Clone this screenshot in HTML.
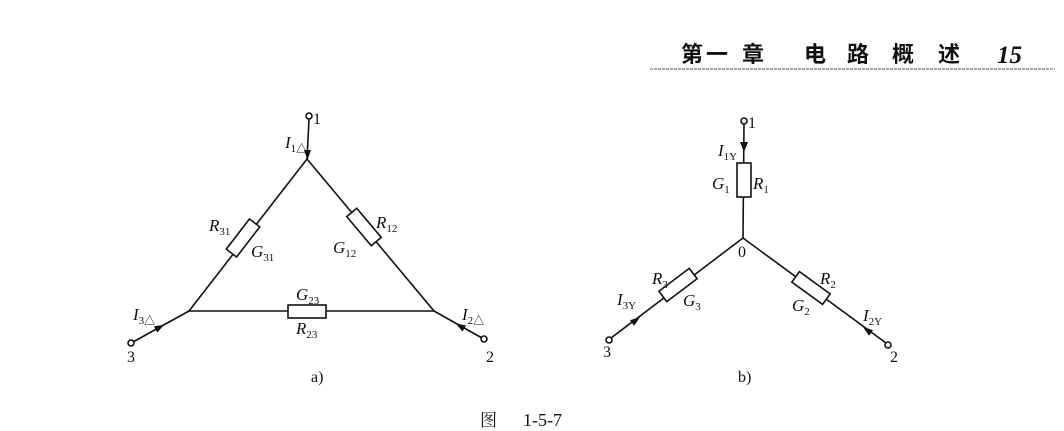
<!DOCTYPE html>
<html><head><meta charset="utf-8"><style>
body{margin:0;background:#fff;}
svg{display:block;}
text{font-family:"Liberation Serif","Noto Serif CJK SC",serif;fill:#111;}
.i{font-style:italic;font-size:17px;}
.s{font-size:11px;font-style:normal;}
.h{font-family:'Noto Sans CJK SC',sans-serif;font-weight:bold;font-size:22px;}
</style></head><body>
<svg width="1064" height="431" viewBox="0 0 1064 431" xmlns="http://www.w3.org/2000/svg">
<text class="h" x="681" y="62">第</text>
<text class="h" x="706" y="62">一</text>
<text class="h" x="742" y="62">章</text>
<text class="h" x="804" y="62">电</text>
<text class="h" x="847" y="62">路</text>
<text class="h" x="892" y="62">概</text>
<text class="h" x="938" y="62">述</text>
<text x="997" y="63" style="font-weight:bold;font-style:italic;font-size:25px">15</text>
<line x1="650" y1="69" x2="1055" y2="69" stroke="#aaa" stroke-width="2" stroke-dasharray="3,1"/>

<g stroke="#111" stroke-width="1.6" fill="none">
<line x1="309" y1="119" x2="307" y2="159"/>
<polyline points="189,311 307,159 434,311 189,311"/>
<line x1="189" y1="311" x2="133" y2="342"/>
<line x1="434" y1="311" x2="482" y2="338"/>
<circle cx="309" cy="116" r="3" fill="#fff"/>
<circle cx="131" cy="343" r="3" fill="#fff"/>
<circle cx="484" cy="339" r="3" fill="#fff"/>
<rect x="-19" y="-6.5" width="38" height="13" fill="#fff" transform="translate(243,238) rotate(-52.4)"/>
<rect x="-19" y="-6.5" width="38" height="13" fill="#fff" transform="translate(364,227) rotate(49.9)"/>
<rect x="288" y="305" width="38" height="13" fill="#fff"/>
<line x1="744" y1="124" x2="743" y2="238"/>
<line x1="743" y1="238" x2="611" y2="338"/>
<line x1="743" y1="238" x2="886" y2="343"/>
<circle cx="744" cy="121" r="3" fill="#fff"/>
<circle cx="609" cy="340" r="3" fill="#fff"/>
<circle cx="888" cy="345" r="3" fill="#fff"/>
<rect x="737" y="163" width="14" height="34" fill="#fff"/>
<rect x="-19" y="-6.5" width="38" height="13" fill="#fff" transform="translate(678,285) rotate(-37)"/>
<rect x="-19" y="-6.5" width="38" height="13" fill="#fff" transform="translate(811,288) rotate(36)"/>
</g>
<g fill="#111">
<polygon points="304,150 311,150 307.5,160"/>
<polygon points="-5,-3.5 5,0 -5,3.5" transform="translate(160,327) rotate(-29)"/>
<polygon points="-5,-3.5 5,0 -5,3.5" transform="translate(460,326) rotate(-150)"/>
<polygon points="740,142 748,142 744,152"/>
<polygon points="-5,-3.5 5,0 -5,3.5" transform="translate(636,320) rotate(-37)"/>
<polygon points="-5,-3.5 5,0 -5,3.5" transform="translate(867,330) rotate(-144)"/>
</g>
<text x="313" y="124" font-size="16">1</text>
<text class="i" x="285" y="148">I<tspan class="s" dy="4">1△</tspan></text>
<text class="i" x="209" y="231">R<tspan class="s" dy="4">31</tspan></text>
<text class="i" x="251" y="257">G<tspan class="s" dy="4">31</tspan></text>
<text class="i" x="376" y="228">R<tspan class="s" dy="4">12</tspan></text>
<text class="i" x="333" y="253">G<tspan class="s" dy="4">12</tspan></text>
<text class="i" x="296" y="300">G<tspan class="s" dy="4">23</tspan></text>
<text class="i" x="296" y="334">R<tspan class="s" dy="4">23</tspan></text>
<text class="i" x="133" y="320">I<tspan class="s" dy="4">3△</tspan></text>
<text class="i" x="462" y="320">I<tspan class="s" dy="4">2△</tspan></text>
<text x="127" y="362" font-size="16">3</text>
<text x="486" y="362" font-size="16">2</text>
<text x="311" y="382" font-size="16">a)</text>
<text x="748" y="128" font-size="16">1</text>
<text class="i" x="718" y="156">I<tspan class="s" dy="4">1Y</tspan></text>
<text class="i" x="712" y="189">G<tspan class="s" dy="4">1</tspan></text>
<text class="i" x="753" y="189">R<tspan class="s" dy="4">1</tspan></text>
<text x="738" y="257" font-size="16">0</text>
<text class="i" x="652" y="284">R<tspan class="s" dy="4">3</tspan></text>
<text class="i" x="683" y="306">G<tspan class="s" dy="4">3</tspan></text>
<text class="i" x="617" y="305">I<tspan class="s" dy="4">3Y</tspan></text>
<text class="i" x="820" y="284">R<tspan class="s" dy="4">2</tspan></text>
<text class="i" x="792" y="311">G<tspan class="s" dy="4">2</tspan></text>
<text class="i" x="863" y="321">I<tspan class="s" dy="4">2Y</tspan></text>
<text x="603" y="357" font-size="16">3</text>
<text x="890" y="362" font-size="16">2</text>
<text x="738" y="382" font-size="16">b)</text>
<text x="480" y="426" style="font-family:'Noto Serif CJK SC',serif;font-size:17px">图</text>
<text x="523" y="426" font-size="18">1-5-7</text>
</svg>
</body></html>
